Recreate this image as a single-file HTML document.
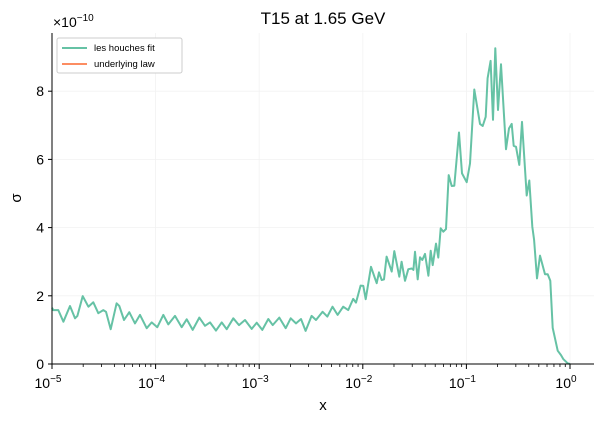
<!DOCTYPE html>
<html><head><meta charset="utf-8"><style>
body{margin:0;background:#fff;}
svg{font-family:"Liberation Sans","DejaVu Sans",sans-serif;}
</style></head><body>
<svg id="chart" width="604" height="423" xmlns="http://www.w3.org/2000/svg">
<text x="323" y="24" font-size="17" text-anchor="middle">T15 at 1.65 GeV</text>
<text x="53" y="27" font-size="14">×10<tspan dy="-6" font-size="10">−10</tspan></text>
<g id="grid"></g>
<g id="ticks"></g>
<path id="fit" fill="none" stroke="#66c2a5" stroke-width="2" stroke-linejoin="round"/>
<line x1="52" y1="33" x2="52" y2="364" stroke="#000" stroke-width="1"/>
<line x1="52" y1="364" x2="594" y2="364" stroke="#000" stroke-width="1"/>
<text x="323" y="410" font-size="15" text-anchor="middle">x</text>
<text x="21" y="198" font-size="15" text-anchor="middle" transform="rotate(-90 21 198)">σ</text>
<g>
<rect x="57" y="38" width="125" height="35" rx="2" fill="#fff" stroke="#ccc" stroke-width="1"/>
<line x1="62" y1="48" x2="87" y2="48" stroke="#66c2a5" stroke-width="2"/>
<text x="94" y="51" font-size="9.5">les houches fit</text>
<line x1="62" y1="64" x2="87" y2="64" stroke="#fc8d62" stroke-width="2"/>
<text x="94" y="67" font-size="9.5">underlying law</text>
</g>
</svg>
<script>
const logX=[-5.00,-4.987,-4.939,-4.890,-4.826,-4.778,-4.755,-4.704,-4.649,-4.601,-4.553,-4.505,-4.479,-4.433,-4.376,-4.350,-4.305,-4.254,-4.199,-4.151,-4.086,-4.038,-3.984,-3.926,-3.877,-3.813,-3.748,-3.700,-3.642,-3.578,-3.523,-3.475,-3.417,-3.362,-3.314,-3.250,-3.195,-3.137,-3.072,-3.024,-2.970,-2.912,-2.870,-2.806,-2.744,-2.696,-2.645,-2.597,-2.552,-2.494,-2.452,-2.388,-2.343,-2.292,-2.243,-2.189,-2.141,-2.093,-2.066,-2.021,-1.995,-1.972,-1.921,-1.882,-1.866,-1.844,-1.818,-1.795,-1.770,-1.721,-1.696,-1.648,-1.625,-1.593,-1.561,-1.528,-1.512,-1.496,-1.470,-1.448,-1.426,-1.400,-1.367,-1.345,-1.325,-1.293,-1.271,-1.248,-1.223,-1.197,-1.171,-1.142,-1.117,-1.071,-1.042,-0.997,-0.965,-0.924,-0.869,-0.843,-0.814,-0.795,-0.766,-0.743,-0.721,-0.695,-0.666,-0.618,-0.589,-0.563,-0.543,-0.521,-0.489,-0.463,-0.418,-0.393,-0.364,-0.347,-0.319,-0.290,-0.241,-0.215,-0.190,-0.167,-0.119,-0.087,-0.064,-0.022,0.0];
const sigma=[1.65,1.58,1.58,1.24,1.70,1.34,1.41,1.99,1.68,1.81,1.49,1.58,1.53,1.02,1.78,1.70,1.29,1.52,1.19,1.44,1.05,1.22,1.08,1.44,1.16,1.41,1.08,1.31,1.00,1.36,1.12,1.22,0.98,1.22,1.02,1.34,1.14,1.29,1.03,1.21,1.00,1.32,1.14,1.36,1.05,1.34,1.19,1.32,0.97,1.41,1.29,1.53,1.39,1.68,1.44,1.68,1.58,1.91,1.80,2.30,2.29,1.90,2.85,2.51,2.37,2.69,2.46,2.48,3.15,2.71,3.31,2.56,3.00,2.44,2.78,2.80,2.76,3.29,2.48,3.13,3.05,3.23,2.59,3.32,2.90,3.53,3.12,3.98,3.88,3.96,5.54,5.22,5.23,6.79,5.59,5.33,5.88,8.05,7.04,6.98,7.25,8.38,8.89,7.16,9.26,7.45,8.79,6.30,6.91,7.04,6.40,6.37,5.84,7.10,4.94,5.38,4.03,3.64,2.51,3.18,2.63,2.63,2.44,1.06,0.39,0.26,0.14,0.02,0.0];
const yTicks=[0,2,4,6,8];
const xDecades=[-5,-4,-3,-2,-1,0];
const xTickLabels=["10","10","10","10","10","10"];
const xTickExps=["−5","−4","−3","−2","−1","0"];
const X0=52,DEC=103.6,Y0=364,YU=34.1;
const sx=l=>X0+(l+5)*DEC, sy=v=>Y0-v*YU;
const NS='http://www.w3.org/2000/svg';
let d='';
for(let i=0;i<logX.length;i++){d+=(i?'L':'M')+sx(logX[i]).toFixed(1)+','+sy(sigma[i]).toFixed(1);}
document.getElementById('fit').setAttribute('d',d);
const tk=document.getElementById('ticks'),gr=document.getElementById('grid');
function ln(p,x1,y1,x2,y2,c,w){const e=document.createElementNS(NS,'line');e.setAttribute('x1',x1);e.setAttribute('y1',y1);e.setAttribute('x2',x2);e.setAttribute('y2',y2);e.setAttribute('stroke',c);e.setAttribute('stroke-width',w);p.appendChild(e);return e;}
yTicks.forEach(v=>{const y=sy(v);
const g=ln(gr,52,y,594,y,'#f2f2f2',0.8);


const t=ln(tk,48,y,52,y,'#000',1);


const tx=document.createElementNS(NS,'text');tx.setAttribute('x',44);tx.setAttribute('y',y+5);tx.setAttribute('font-size','14');tx.setAttribute('text-anchor','end');tx.textContent=v;


tk.appendChild(tx);});
xDecades.forEach((l,i)=>{const x=sx(l);
const g=ln(gr,x,33,x,364,'#f2f2f2',0.8);


const t=ln(tk,x,364,x,369,'#000',1);


const tx=document.createElementNS(NS,'text');tx.setAttribute('x',x-4);tx.setAttribute('y',388);tx.setAttribute('font-size','14');tx.setAttribute('text-anchor','middle');
tx.innerHTML=xTickLabels[i]+'<tspan dy="-6" font-size="10">'+xTickExps[i]+'</tspan>';


tk.appendChild(tx);
for(let m=2;m<=9;m++){const mx=sx(l+Math.log10(m));if(mx>594)break;
const mt=ln(tk,mx,364,mx,367,'#000',0.8);

}
});
</script>
</body></html>
